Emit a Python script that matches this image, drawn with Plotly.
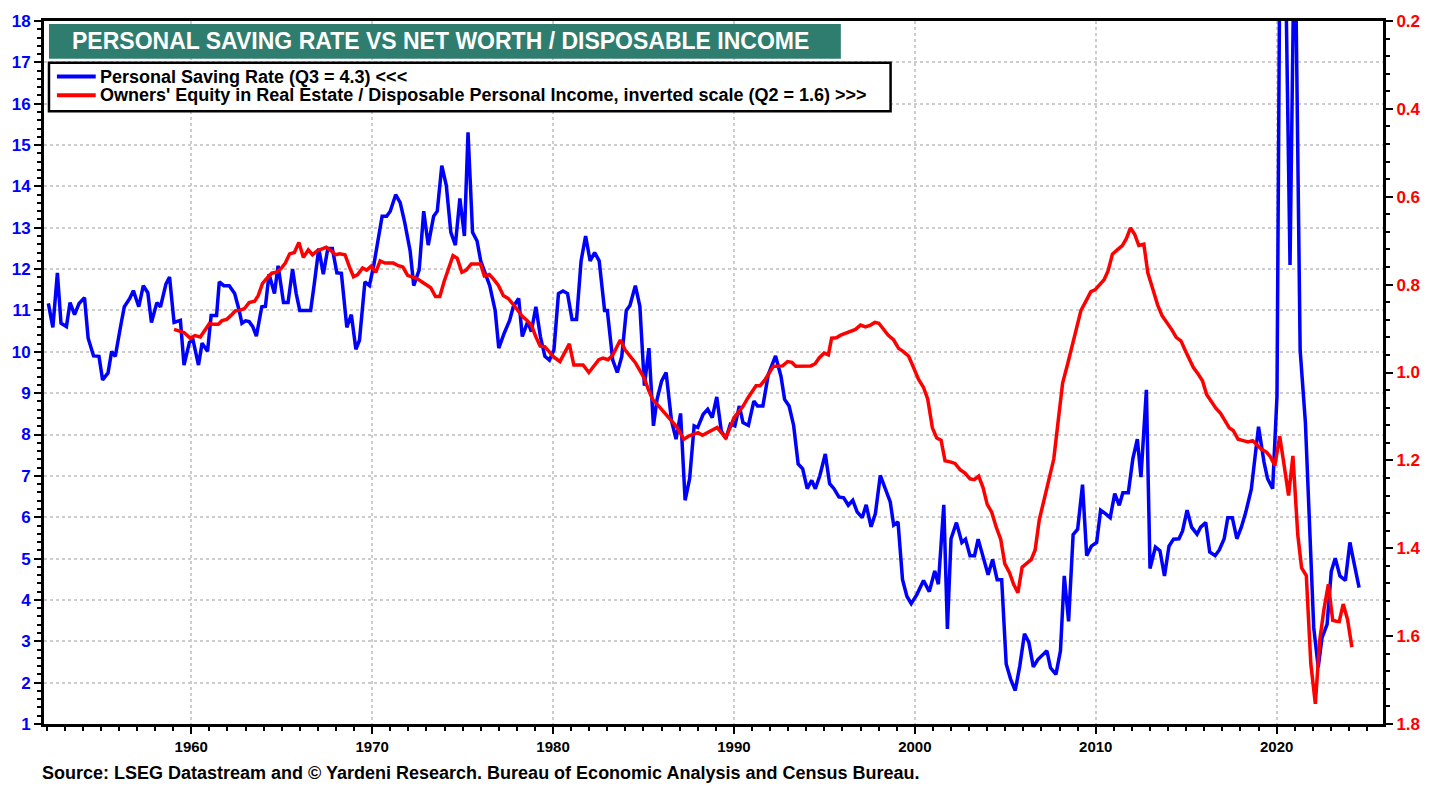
import plotly.graph_objects as go

# ---------------- data ----------------
# Personal saving rate, % (left axis), quarterly
sr_years = [
    1952.1, 1952.35, 1952.6, 1952.8, 1953.1, 1953.3, 1953.55, 1953.8, 1954.1, 1954.3,
    1954.6, 1954.9, 1955.1, 1955.4, 1955.6, 1955.8, 1956.1, 1956.3, 1956.6, 1956.8,
    1957.1, 1957.35, 1957.6, 1957.8, 1958.1, 1958.3, 1958.6, 1958.8, 1959.05, 1959.4,
    1959.6, 1959.9, 1960.1, 1960.4, 1960.6, 1960.9, 1961.1, 1961.4, 1961.55, 1961.8,
    1962.1, 1962.4, 1962.65, 1962.8, 1963.0, 1963.2, 1963.4, 1963.6, 1963.9, 1964.1,
    1964.3, 1964.6, 1964.8, 1965.1, 1965.35, 1965.6, 1965.8, 1966.0, 1966.3, 1966.6,
    1966.8, 1967.05, 1967.3, 1967.55, 1967.8, 1968.05, 1968.3, 1968.6, 1968.85, 1969.1,
    1969.3, 1969.6, 1969.85, 1970.1, 1970.55, 1970.8, 1971.0, 1971.3, 1971.55, 1971.8,
    1972.1, 1972.3, 1972.6, 1972.85, 1973.1, 1973.4, 1973.6, 1973.85, 1974.1, 1974.35,
    1974.6, 1974.85, 1975.1, 1975.3, 1975.55, 1975.8, 1976.0, 1976.3, 1976.5, 1976.8,
    1977.0, 1977.3, 1977.6, 1977.8, 1978.1, 1978.3, 1978.6, 1978.8, 1979.05, 1979.3,
    1979.55, 1979.8, 1980.05, 1980.3, 1980.55, 1980.8, 1981.05, 1981.3, 1981.55, 1981.8,
    1982.05, 1982.3, 1982.55, 1982.85, 1983.0, 1983.3, 1983.55, 1983.8, 1984.05, 1984.25,
    1984.55, 1984.8, 1985.05, 1985.3, 1985.55, 1985.75, 1986.0, 1986.25, 1986.55, 1986.8,
    1987.05, 1987.3, 1987.55, 1987.8, 1988.0, 1988.3, 1988.55, 1988.8, 1989.05, 1989.3,
    1989.55, 1989.8, 1990.05, 1990.3, 1990.5, 1990.8, 1991.1, 1991.3, 1991.6, 1991.9,
    1992.1, 1992.3, 1992.6, 1992.8, 1993.05, 1993.3, 1993.55, 1993.8, 1994.05, 1994.3,
    1994.5, 1994.75, 1995.05, 1995.29, 1995.53, 1995.8, 1996.07, 1996.32, 1996.57, 1996.81,
    1997.09, 1997.31, 1997.58, 1997.82, 1998.09, 1998.37, 1998.64, 1998.83, 1999.07, 1999.32,
    1999.56, 1999.8, 2000.11, 2000.48, 2000.8, 2001.1, 2001.3, 2001.6, 2001.8, 2002.0,
    2002.3, 2002.6, 2002.8, 2003.05, 2003.3, 2003.5, 2003.77, 2004.05, 2004.3, 2004.55,
    2004.8, 2005.05, 2005.3, 2005.55, 2005.8, 2006.06, 2006.3, 2006.55, 2006.8, 2007.05,
    2007.3, 2007.5, 2007.8, 2008.05, 2008.26, 2008.5, 2008.75, 2009.0, 2009.27, 2009.5,
    2009.76, 2010.05, 2010.27, 2010.55, 2010.8, 2011.05, 2011.3, 2011.5, 2011.8, 2012.05,
    2012.3, 2012.5, 2012.8, 2013.0, 2013.3, 2013.55, 2013.8, 2014.05, 2014.3, 2014.6,
    2014.8, 2015.05, 2015.3, 2015.6, 2015.8, 2016.08, 2016.3, 2016.6, 2016.83, 2017.1,
    2017.3, 2017.55, 2017.8, 2018.05, 2018.3, 2018.6, 2018.8, 2019.0, 2019.3, 2019.5,
    2019.78, 2020.02, 2020.27, 2020.5, 2020.74, 2021.0, 2021.3, 2021.59, 2021.87, 2022.05,
    2022.3, 2022.51, 2022.79, 2023.02, 2023.24, 2023.5, 2023.8, 2024.05, 2024.3, 2024.56,
]
sr_values = [
    11.17, 10.59, 11.91, 10.69, 10.61, 11.19, 10.9, 11.17, 11.31, 10.33,
    9.9, 9.89, 9.32, 9.49, 10.01, 9.89, 10.63, 11.09, 11.29, 11.48,
    11.09, 11.6, 11.43, 10.71, 11.19, 11.09, 11.64, 11.81, 10.71, 10.76,
    9.68, 10.23, 10.28, 9.68, 10.21, 10.01, 10.88, 10.88, 11.69, 11.6,
    11.6, 11.41, 11.0, 10.69, 10.75, 10.73, 10.61, 10.38, 11.09, 11.1,
    11.88, 11.41, 12.08, 11.19, 11.19, 12.0, 11.41, 11.0, 11.0, 11.0,
    11.64, 12.5, 11.88, 12.5, 12.5, 11.91, 11.9, 10.59, 10.9, 10.06,
    10.28, 11.69, 11.6, 12.12, 13.28, 13.28, 13.4, 13.8, 13.61, 13.13,
    12.44, 11.6, 11.98, 13.4, 12.58, 13.28, 13.4, 14.5, 14.02, 12.89,
    12.58, 13.71, 12.8, 15.31, 12.89, 12.68, 12.2, 11.87, 11.6, 11.0,
    10.09, 10.45, 10.76, 11.09, 11.29, 10.37, 10.73, 10.49, 11.09, 10.37,
    9.89, 9.8, 10.05, 11.41, 11.47, 11.41, 10.78, 10.78, 12.2, 12.8,
    12.2, 12.4, 12.2, 11.0, 11.0, 9.8, 9.5, 9.89, 11.0, 11.12,
    11.6, 11.1, 9.18, 10.09, 8.21, 8.85, 9.29, 9.5, 8.33, 7.89,
    8.51, 6.41, 6.93, 8.21, 8.17, 8.49, 8.61, 8.41, 8.91, 8.09,
    7.9, 8.25, 8.21, 8.69, 8.29, 8.22, 8.81, 8.69, 8.69, 9.45,
    9.65, 9.9, 9.41, 8.85, 8.69, 8.22, 7.29, 7.17, 6.69, 6.89,
    6.69, 7.01, 7.53, 6.81, 6.69, 6.49, 6.47, 6.29, 6.41, 6.13,
    5.99, 6.3, 5.77, 6.09, 7.01, 6.69, 6.37, 5.81, 5.89, 4.49,
    4.09, 3.91, 4.13, 4.47, 4.2, 4.7, 4.38, 6.3, 3.3, 5.48,
    5.87, 5.39, 5.47, 5.07, 5.07, 5.47, 5.03, 4.61, 4.98, 4.49,
    4.49, 2.45, 2.08, 1.81, 2.4, 3.18, 2.98, 2.38, 2.56, 2.66,
    2.77, 2.36, 2.2, 2.77, 4.58, 3.48, 5.58, 5.71, 6.79, 5.07,
    5.3, 5.39, 6.17, 6.08, 5.99, 6.57, 6.29, 6.59, 6.59, 7.41,
    7.89, 6.97, 9.08, 4.76, 5.28, 5.19, 4.58, 5.3, 5.47, 5.48,
    5.67, 6.17, 5.76, 5.59, 5.76, 5.87, 5.16, 5.07, 5.21, 5.48,
    5.99, 5.99, 5.48, 5.76, 6.13, 6.68, 7.41, 8.19, 7.34, 6.93,
    6.69, 8.93, 26.0, 18.8, 12.1, 21.0, 10.04, 8.29, 5.25, 3.33,
    2.37, 3.09, 3.41, 4.69, 5.01, 4.58, 4.47, 5.39, 4.85, 4.3,
]

# Owners' equity in real estate / disposable personal income (right axis, inverted)
oe_years = [
    1959.05, 1959.4, 1959.6, 1959.95, 1960.2, 1960.5, 1960.7, 1961.0, 1961.2, 1961.5,
    1961.7, 1961.96, 1962.2, 1962.43, 1962.7, 1962.93, 1963.2, 1963.5, 1963.7, 1963.94,
    1964.2, 1964.45, 1964.7, 1964.95, 1965.2, 1965.44, 1965.7, 1965.95, 1966.2, 1966.47,
    1966.7, 1966.96, 1967.2, 1967.46, 1967.73, 1967.97, 1968.2, 1968.5, 1968.75, 1968.97,
    1969.2, 1969.47, 1969.7, 1969.95, 1970.2, 1970.44, 1970.7, 1970.95, 1971.17, 1971.45,
    1971.7, 1971.96, 1972.2, 1972.5, 1972.76, 1973.0, 1973.24, 1973.5, 1973.74, 1973.97,
    1974.23, 1974.47, 1974.7, 1974.96, 1975.2, 1975.48, 1975.75, 1975.99, 1976.2, 1976.48,
    1976.7, 1976.98, 1977.25, 1977.53, 1977.76, 1978.04, 1978.3, 1978.55, 1978.8, 1979.05,
    1979.29, 1979.54, 1979.78, 1980.05, 1980.38, 1980.66, 1980.9, 1981.15, 1981.43, 1981.66,
    1981.98, 1982.25, 1982.53, 1982.76, 1983.04, 1983.3, 1983.53, 1983.72, 1983.99, 1984.27,
    1984.54, 1984.78, 1985.04, 1985.27, 1985.51, 1985.77, 1986.0, 1986.28, 1986.55, 1986.8,
    1987.02, 1987.23, 1987.53, 1987.79, 1988.02, 1988.26, 1988.52, 1988.8, 1989.07, 1989.3,
    1989.54, 1989.8, 1990.0, 1990.22, 1990.5, 1990.77, 1991.04, 1991.22, 1991.45, 1991.69,
    1991.92, 1992.18, 1992.42, 1992.69, 1992.97, 1993.2, 1993.42, 1993.7, 1993.97, 1994.25,
    1994.49, 1994.71, 1994.98, 1995.22, 1995.4, 1995.66, 1995.9, 1996.17, 1996.45, 1996.72,
    1997.0, 1997.27, 1997.55, 1997.79, 1998.01, 1998.24, 1998.52, 1998.83, 1999.1, 1999.35,
    1999.66, 1999.93, 2000.2, 2000.48, 2000.71, 2000.97, 2001.21, 2001.45, 2001.67, 2002.0,
    2002.22, 2002.5, 2002.77, 2003.05, 2003.29, 2003.53, 2003.77, 2004.0, 2004.25, 2004.5,
    2004.75, 2004.97, 2005.24, 2005.46, 2005.7, 2005.93, 2006.2, 2006.43, 2006.65, 2006.88,
    2007.16, 2007.43, 2007.68, 2007.9, 2008.17, 2008.45, 2008.72, 2008.96, 2009.18, 2009.45,
    2009.73, 2009.96, 2010.22, 2010.46, 2010.68, 2010.92, 2011.19, 2011.47, 2011.7, 2011.92,
    2012.16, 2012.38, 2012.66, 2012.88, 2013.17, 2013.42, 2013.66, 2013.93, 2014.21, 2014.45,
    2014.71, 2014.95, 2015.18, 2015.4, 2015.64, 2015.9, 2016.13, 2016.41, 2016.65, 2016.9,
    2017.14, 2017.38, 2017.6, 2017.87, 2018.15, 2018.42, 2018.67, 2018.92, 2019.16, 2019.44,
    2019.66, 2019.9, 2020.17, 2020.4, 2020.66, 2020.9, 2021.17, 2021.38, 2021.64, 2021.89,
    2022.14, 2022.38, 2022.62, 2022.86, 2023.1, 2023.3, 2023.46, 2023.68, 2023.92, 2024.16,
]
oe_values = [
    0.902, 0.907, 0.909, 0.922, 0.916, 0.919, 0.907, 0.889, 0.89, 0.89,
    0.882, 0.879, 0.87, 0.86, 0.858, 0.855, 0.841, 0.838, 0.825, 0.797,
    0.785, 0.774, 0.772, 0.764, 0.751, 0.73, 0.727, 0.704, 0.738, 0.721,
    0.732, 0.723, 0.719, 0.715, 0.723, 0.732, 0.73, 0.732, 0.76, 0.782,
    0.777, 0.762, 0.767, 0.758, 0.772, 0.746, 0.751, 0.751, 0.751, 0.757,
    0.76, 0.779, 0.782, 0.787, 0.794, 0.8, 0.807, 0.827, 0.827, 0.794,
    0.764, 0.734, 0.74, 0.772, 0.767, 0.753, 0.753, 0.753, 0.78, 0.777,
    0.787, 0.802, 0.825, 0.832, 0.843, 0.858, 0.872, 0.881, 0.892, 0.919,
    0.94, 0.941, 0.952, 0.965, 0.975, 0.955, 0.935, 0.983, 0.983, 0.983,
    1.0, 0.986, 0.971, 0.967, 0.971, 0.96, 0.943, 0.926, 0.949, 0.962,
    0.977, 0.994, 1.013, 1.039, 1.062, 1.073, 1.084, 1.099, 1.11, 1.122,
    1.137, 1.152, 1.144, 1.141, 1.137, 1.143, 1.137, 1.129, 1.125, 1.137,
    1.148, 1.125, 1.103, 1.092, 1.077, 1.058, 1.043, 1.03, 1.03, 1.018,
    1.003, 0.986, 0.986, 0.985, 0.975, 0.977, 0.986, 0.986, 0.986, 0.985,
    0.98, 0.967, 0.956, 0.96, 0.922, 0.921, 0.915, 0.911, 0.907, 0.902,
    0.892, 0.896, 0.892, 0.886, 0.888, 0.9, 0.915, 0.926, 0.945, 0.952,
    0.963, 0.989, 1.015, 1.034, 1.06, 1.126, 1.149, 1.154, 1.201, 1.204,
    1.207, 1.221, 1.229, 1.242, 1.244, 1.236, 1.262, 1.3, 1.318, 1.352,
    1.38, 1.435, 1.456, 1.482, 1.501, 1.443, 1.435, 1.426, 1.404, 1.335,
    1.287, 1.244, 1.197, 1.119, 1.024, 0.98, 0.937, 0.898, 0.859, 0.838,
    0.816, 0.812, 0.799, 0.789, 0.769, 0.731, 0.721, 0.711, 0.695, 0.671,
    0.686, 0.711, 0.708, 0.773, 0.812, 0.846, 0.87, 0.885, 0.903, 0.92,
    0.928, 0.95, 0.972, 0.989, 1.002, 1.019, 1.05, 1.069, 1.082, 1.093,
    1.11, 1.126, 1.132, 1.152, 1.155, 1.158, 1.155, 1.166, 1.175, 1.181,
    1.192, 1.212, 1.145, 1.207, 1.28, 1.19, 1.37, 1.445, 1.462, 1.663,
    1.754, 1.61, 1.538, 1.482, 1.564, 1.566, 1.567, 1.527, 1.562, 1.625,
]

year_ticks = [1960, 1970, 1980, 1990, 2000, 2010, 2020]
left_ticks = list(range(1, 19))
right_ticks = [0.2, 0.4, 0.6, 0.8, 1.0, 1.2, 1.4, 1.6, 1.8]

title_text = "PERSONAL SAVING RATE VS NET WORTH / DISPOSABLE INCOME"
sr_label = "Personal Saving Rate (Q3 = 4.3) <<<"
oe_label = "Owners' Equity in Real Estate / Disposable Personal Income, inverted scale (Q2 = 1.6) >>>"
source_text = "Source: LSEG Datastream and \u00a9 Yardeni Research. Bureau of Economic Analysis and Census Bureau."

# ---------------- styling ----------------
BLUE = "#0000ff"
RED = "#ff0000"
TEAL = "#2e7d6e"
FONT = "Liberation Sans, Arial, sans-serif"

W, H = 1438, 787
L, R, T, B = 37, 55, 15, 63
PW, PH = W - L - R, H - T - B


def px(xp):
    return (xp - L) / PW


def py(yp):
    return (H - B - yp) / PH


fig = go.Figure()
fig.add_trace(go.Scatter(x=sr_years, y=sr_values, mode="lines", name=sr_label,
                         line=dict(color=BLUE, width=3.5), yaxis="y"))
fig.add_trace(go.Scatter(x=oe_years, y=oe_values, mode="lines", name=oe_label,
                         line=dict(color=RED, width=3.5), yaxis="y2"))

axis_line = dict(showline=True, linecolor="black", linewidth=3)
grid = dict(showgrid=True, gridcolor="#cdcdcd", gridwidth=2, griddash="dot")

fig.update_layout(
    width=W, height=H,
    margin=dict(l=L, r=R, t=T, b=B, pad=0),
    paper_bgcolor="white", plot_bgcolor="white",
    showlegend=False,
    font=dict(family=FONT),
    xaxis=dict(
        range=[1951.86, 2025.88], tickvals=year_ticks, ticktext=[str(y) for y in year_ticks],
        ticks="outside", ticklen=7, tickwidth=2, tickcolor="black",
        minor=dict(dtick=1, tick0=1960, ticks="outside", ticklen=4, tickwidth=1.5, tickcolor="black", showgrid=False),
        tickfont=dict(family=FONT, size=15, color="black", weight="bold"),
        mirror=True, zeroline=False, **axis_line, **grid,
    ),
    yaxis=dict(
        range=[1, 18], tickvals=left_ticks,
        ticks="outside", ticklen=7, tickwidth=2, tickcolor="black",
        minor=dict(dtick=0.2, tick0=1, ticks="outside", ticklen=4, tickwidth=1.5, tickcolor="black", showgrid=False),
        tickfont=dict(family=FONT, size=17, color=BLUE, weight="bold"),
        zeroline=False, **axis_line, **grid,
    ),
    yaxis2=dict(
        range=[1.8, 0.2], overlaying="y", side="right", tickvals=right_ticks,
        tickformat=".1f",
        ticks="outside", ticklen=7, tickwidth=2, tickcolor="black",
        minor=dict(dtick=0.04, tick0=0.2, ticks="outside", ticklen=4, tickwidth=1.5, tickcolor="black", showgrid=False),
        tickfont=dict(family=FONT, size=17, color=RED, weight="bold"),
        showgrid=False, zeroline=False, **axis_line,
    ),
)

# title box
fig.add_shape(type="rect", xref="paper", yref="paper",
              x0=px(42), x1=px(838), y0=py(53), y1=py(18),
              fillcolor=TEAL, line=dict(width=0), layer="above")
fig.add_annotation(xref="paper", yref="paper", x=px(436), y=py(35.5),
                   text=title_text, showarrow=False, xanchor="center", yanchor="middle",
                   font=dict(family=FONT, size=23, color="white", weight="bold"))

# legend box
fig.add_shape(type="rect", xref="paper", yref="paper",
              x0=px(42), x1=px(888), y0=py(106), y1=py(57),
              fillcolor="white", line=dict(color="black", width=2.5), layer="above")
for ypos, col, lab in [(71, BLUE, sr_label), (90, RED, oe_label)]:
    fig.add_shape(type="line", xref="paper", yref="paper",
                  x0=px(50), x1=px(89), y0=py(ypos), y1=py(ypos),
                  line=dict(color=col, width=4), layer="above")
    fig.add_annotation(xref="paper", yref="paper", x=px(91), y=py(ypos),
                       text=lab, showarrow=False, xanchor="left", yanchor="middle",
                       font=dict(family=FONT, size=18, color="black", weight="bold"))

# source
fig.add_annotation(xref="paper", yref="paper", x=px(33), y=py(773),
                   text=source_text, showarrow=False, xanchor="left", yanchor="middle",
                   font=dict(family=FONT, size=18, color="black", weight="bold"))

fig.write_html("out.html", config={"displayModeBar": False},
               post_script="document.body.style.margin='0';")
